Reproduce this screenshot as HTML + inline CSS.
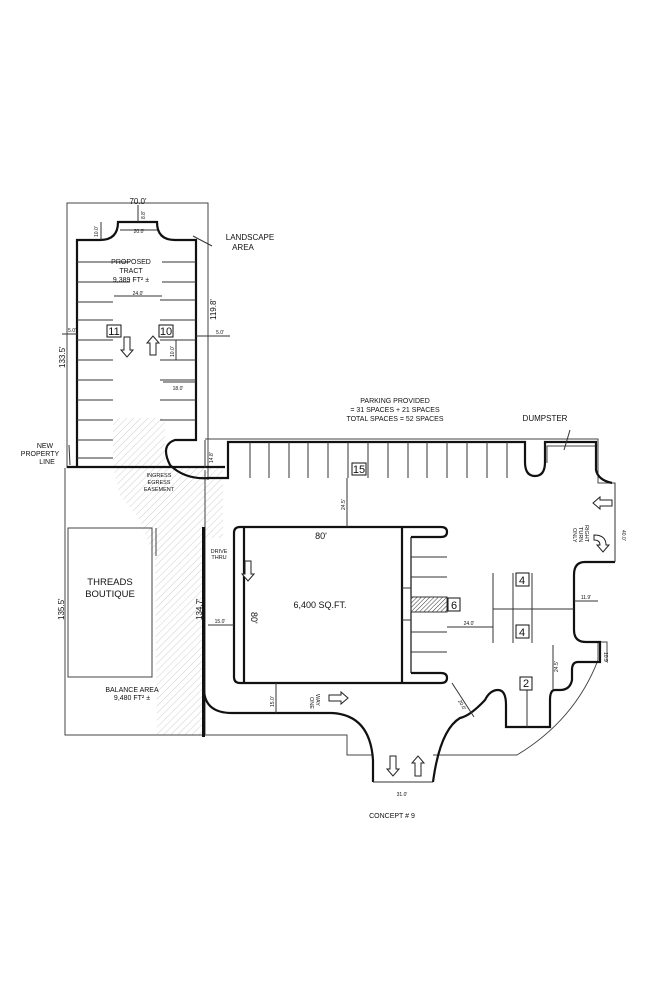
<!DOCTYPE html>
<html><head><style>
html,body{margin:0;padding:0;background:#fff}
svg{display:block;font-family:"Liberation Sans",sans-serif}
</style></head><body>
<svg width="650" height="1005" viewBox="0 0 650 1005" xmlns="http://www.w3.org/2000/svg">
<defs>
<pattern id="h" width="5" height="5" patternUnits="userSpaceOnUse" patternTransform="rotate(45)">
<line x1="0" y1="0" x2="0" y2="5" stroke="#d0d0d0" stroke-width="1"/>
</pattern>
<pattern id="h2" width="3" height="3" patternUnits="userSpaceOnUse" patternTransform="rotate(45)">
<line x1="0" y1="0" x2="0" y2="3" stroke="#333" stroke-width="1"/>
</pattern>
</defs>
<polygon points="113,418 165,418 165,468 113,468" fill="url(#h)"/>
<polygon points="113,468 205,468 205,735 157,735 155,560 140,520 120,495" fill="url(#h)"/>
<rect x="205" y="468" width="18" height="70" fill="url(#h)"/>
<g fill="none" stroke="#444" stroke-width="1">
<path d="M67,468 L67,203 L208,203 L208,480"/>
<path d="M65,468 L65,735 L205,735 L205,470"/>
<rect x="68" y="528" width="84" height="149"/>
<line x1="156" y1="528" x2="156" y2="556"/>
<path d="M205,439 L598,439 L598,483 L615,483 L615,562"/>
<path d="M205,735 L347,735 L347,755 L373,755 M433,755 L517,755 Q575,720 598,660 L598,643"/>
<path d="M547,463 L547,446 L595,446"/>
<path d="M600,662 L600,642 L607,642 L607,662"/>
</g>
<g fill="none" stroke="#111" stroke-width="2.2">
<path d="M77,468 L77,240 L100,240 Q118,240 118,222 L157,222 Q157,240 175,240 L196,240 L196,440 L175,440 Q160,445 170,465 Q185,480 210,478 L228,478 Q228,470 228,462 L228,442 L525,442 L525,462 Q525,476 535,476 Q545,476 545,462 L545,442 L596,442 L596,470 Q598,480 612,483"/>
<line x1="67" y1="467" x2="225" y2="467"/>
<path d="M615,562 L585,562 Q574,562 574,575 L574,630 Q574,642 586,642 L600,642 L600,662 L578,662 Q572,662 572,670 L572,680 Q570,690 560,690 L555,690 Q550,690 550,700 L550,727 L506,727 L506,705 Q506,690 498,690 Q490,690 485,700 Q470,716 460,718 Q440,730 433,782"/>
<path d="M373,782 L373,760 Q370,715 332,713 L232,713 Q205,713 204,690 L204,527"/>
<path d="M411,537 L441,537 Q447,537 447,532 Q447,527 441,527 L240,527 Q234,527 234,533 L234,677 Q234,683 240,683 L441,683 Q447,683 447,678 Q447,673 441,673 L411,673"/>
<line x1="244" y1="527" x2="244" y2="683"/>
<line x1="402" y1="527" x2="402" y2="683"/>
</g>
<line x1="411" y1="537" x2="411" y2="673" stroke="#111" stroke-width="1.2"/>
<rect x="202" y="527" width="3" height="210" fill="#111"/>
<g stroke="#333" stroke-width="1">
<line x1="77" y1="262" x2="130" y2="262"/><line x1="77" y1="282" x2="130" y2="282"/>
<line x1="77" y1="302" x2="113" y2="302"/><line x1="77" y1="320" x2="113" y2="320"/><line x1="77" y1="340" x2="113" y2="340"/><line x1="77" y1="360" x2="113" y2="360"/><line x1="77" y1="380" x2="113" y2="380"/><line x1="77" y1="400" x2="113" y2="400"/><line x1="77" y1="420" x2="113" y2="420"/><line x1="77" y1="440" x2="113" y2="440"/><line x1="77" y1="458" x2="113" y2="458"/>
<line x1="162" y1="262" x2="196" y2="262"/><line x1="162" y1="282" x2="196" y2="282"/><line x1="160" y1="300" x2="196" y2="300"/><line x1="160" y1="320" x2="196" y2="320"/><line x1="160" y1="340" x2="196" y2="340"/><line x1="160" y1="360" x2="196" y2="360"/><line x1="160" y1="380" x2="196" y2="380"/><line x1="160" y1="400" x2="196" y2="400"/><line x1="160" y1="420" x2="196" y2="420"/>
<line x1="250" y1="442" x2="250" y2="478"/><line x1="269" y1="442" x2="269" y2="478"/><line x1="289" y1="442" x2="289" y2="478"/><line x1="308" y1="442" x2="308" y2="478"/><line x1="328" y1="442" x2="328" y2="478"/><line x1="348" y1="442" x2="348" y2="478"/><line x1="368" y1="442" x2="368" y2="478"/><line x1="388" y1="442" x2="388" y2="478"/><line x1="408" y1="442" x2="408" y2="478"/><line x1="427" y1="442" x2="427" y2="478"/><line x1="447" y1="442" x2="447" y2="478"/><line x1="467" y1="442" x2="467" y2="478"/><line x1="487" y1="442" x2="487" y2="478"/><line x1="507" y1="442" x2="507" y2="478"/>
<line x1="411" y1="557" x2="447" y2="557"/><line x1="411" y1="577" x2="447" y2="577"/><line x1="411" y1="632" x2="447" y2="632"/><line x1="411" y1="652" x2="447" y2="652"/>
<line x1="402" y1="588" x2="411" y2="588"/><line x1="402" y1="620" x2="411" y2="620"/>
<line x1="493" y1="573" x2="493" y2="643"/><line x1="513" y1="573" x2="513" y2="643"/><line x1="532" y1="573" x2="532" y2="643"/><line x1="493" y1="609" x2="574" y2="609"/>
<line x1="527" y1="690" x2="527" y2="727"/>
<line x1="347" y1="478" x2="347" y2="527"/><line x1="208" y1="625" x2="234" y2="625"/><line x1="276" y1="683" x2="276" y2="713"/><line x1="447" y1="627" x2="493" y2="627"/><line x1="452" y1="683" x2="474" y2="717"/><line x1="373" y1="782" x2="433" y2="782"/><line x1="574" y1="601" x2="598" y2="601"/><line x1="615" y1="483" x2="615" y2="562"/><line x1="553" y1="645" x2="553" y2="690"/>
<line x1="114" y1="296" x2="162" y2="296"/><line x1="163" y1="382" x2="196" y2="382"/><line x1="176" y1="340" x2="176" y2="360"/><line x1="101" y1="222" x2="101" y2="240"/><line x1="138" y1="205" x2="138" y2="222"/><line x1="120" y1="230" x2="157" y2="230"/>
<line x1="62" y1="334" x2="77" y2="334"/><line x1="196" y1="336" x2="230" y2="336"/><line x1="205" y1="440" x2="205" y2="468"/>
<line x1="193" y1="236" x2="212" y2="246"/>
<line x1="69" y1="445" x2="70" y2="465"/>
<line x1="570" y1="430" x2="564" y2="450"/>
</g>
<rect x="411" y="597" width="36" height="15" fill="url(#h2)" stroke="#333"/>
<g fill="#fff" stroke="#111" stroke-width="1">
<rect x="107" y="325" width="14" height="12"/><rect x="159" y="325" width="14" height="12"/>
<rect x="352" y="463" width="14" height="12"/><rect x="516" y="573" width="13" height="13"/><rect x="516" y="625" width="13" height="13"/><rect x="448" y="598" width="12" height="13"/><rect x="520" y="677" width="12" height="13"/>
</g>
<g font-size="11" text-anchor="middle" fill="#111">
<text x="114" y="335">11</text><text x="166" y="335">10</text><text x="359" y="473">15</text><text x="522" y="584">4</text><text x="522" y="636">4</text><text x="454" y="609">6</text><text x="526" y="687">2</text>
</g>
<g fill="#fff" stroke="#222" stroke-width="1">
<path d="M124,337 L130,337 L130,350 L133,350 L127,357 L121,350 L124,350 Z"/>
<path d="M150,355 L156,355 L156,343 L159,343 L153,336 L147,343 L150,343 Z"/>
<path d="M245,561 L251,561 L251,574 L254,574 L248,581 L242,574 L245,574 Z"/>
<path d="M329,695 L341,695 L341,692 L348,698 L341,704 L341,701 L329,701 Z"/>
<path d="M390,756 L396,756 L396,769 L399,769 L393,776 L387,769 L390,769 Z"/>
<path d="M415,776 L421,776 L421,763 L424,763 L418,756 L412,763 L415,763 Z"/>
<path d="M612,500 L600,500 L600,497 L593,503 L600,509 L600,506 L612,506 Z"/>
<path d="M594,535 Q606,535 606,545 L609,545 L603,552 L597,545 L600,545 Q600,540 594,540 Z"/>
</g>
<g fill="#111" font-size="7" text-anchor="middle">
<text x="131" y="264">PROPOSED</text><text x="131" y="273">TRACT</text><text x="131" y="282">9,389 FT² ±</text>
<text x="110" y="585" font-size="9.5">THREADS</text><text x="110" y="597" font-size="9.5">BOUTIQUE</text>
<text x="132" y="692">BALANCE AREA</text><text x="132" y="700">9,480 FT² ±</text>
<text x="320" y="608" font-size="9">6,400 SQ.FT.</text>
<text x="321" y="539" font-size="9">80'</text>
<text x="395" y="403">PARKING PROVIDED</text><text x="395" y="412">= 31 SPACES + 21 SPACES</text><text x="395" y="421">TOTAL SPACES = 52 SPACES</text>
<text x="545" y="421" font-size="8">DUMPSTER</text>
<text x="250" y="240" font-size="8">LANDSCAPE</text><text x="243" y="250" font-size="8">AREA</text>
<text x="45" y="448">NEW</text><text x="40" y="456">PROPERTY</text><text x="47" y="464">LINE</text>
<text x="159" y="477" font-size="5.5">INGRESS</text><text x="159" y="484" font-size="5.5">EGRESS</text><text x="159" y="491" font-size="5.5">EASEMENT</text>
<text x="219" y="553" font-size="5.5">DRIVE</text><text x="219" y="559" font-size="5.5">THRU</text>
<text x="138" y="204" font-size="8">70.0'</text>
<text x="139" y="233" font-size="5">20.0'</text><text x="138" y="295" font-size="5">24.0'</text><text x="178" y="390" font-size="5">18.0'</text><text x="220" y="334" font-size="5">5.0'</text><text x="72" y="332" font-size="5">5.0'</text>
<text x="220" y="623" font-size="5">15.0'</text><text x="469" y="625" font-size="5">24.0'</text><text x="586" y="599" font-size="5">11.9'</text><text x="402" y="796" font-size="5">31.0'</text>
<text x="392" y="818" font-size="7">CONCEPT # 9</text>
</g>
<g fill="#111" font-size="8">
<text transform="translate(65,368) rotate(-90)">133.5'</text>
<text transform="translate(216,320) rotate(-90)">119.8'</text>
<text transform="translate(64,620) rotate(-90)">135.5'</text>
<text transform="translate(202,620) rotate(-90)">134.7'</text>
<text transform="translate(251,612) rotate(90)" font-size="9">80'</text>
<text transform="translate(345,510) rotate(-90)" font-size="5">24.5'</text>
<text transform="translate(274,707) rotate(-90)" font-size="5">15.0'</text>
<text transform="translate(98,237) rotate(-90)" font-size="5">10.0'</text>
<text transform="translate(145,219) rotate(-90)" font-size="5">8.8'</text>
<text transform="translate(174,357) rotate(-90)" font-size="5">10.0'</text>
<text transform="translate(213,463) rotate(-90)" font-size="5">14.8'</text>
<text transform="translate(622,530) rotate(90)" font-size="5">40.0'</text>
<text transform="translate(558,672) rotate(-90)" font-size="5">24.5'</text>
<text transform="translate(604,652) rotate(90)" font-size="5">10.9'</text>
<text transform="translate(458,701) rotate(60)" font-size="5">20.0'</text>
<text transform="translate(310,697) rotate(90)" font-size="5.5">ONE</text>
<text transform="translate(316,694) rotate(90)" font-size="5.5">WAY</text>
<text transform="translate(585,525) rotate(90)" font-size="5.5">RIGHT</text>
<text transform="translate(579,527) rotate(90)" font-size="5.5">TURN</text>
<text transform="translate(573,528) rotate(90)" font-size="5.5">ONLY</text>
</g>
</svg>
</body></html>
